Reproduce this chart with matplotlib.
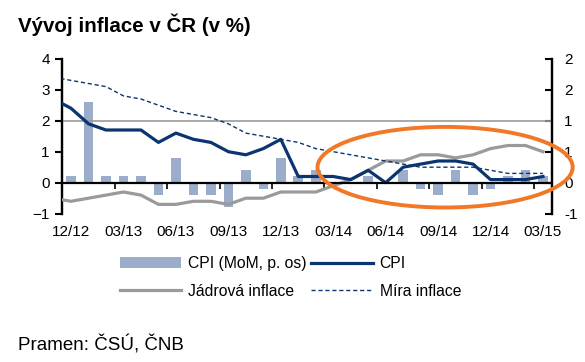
import numpy as np
import matplotlib
matplotlib.use('Agg')
import matplotlib.pyplot as plt
from matplotlib.patches import Ellipse

plt.rcParams['font.family'] = ['Liberation Sans', 'DejaVu Sans']

# --- data (11/12 only extends the lines to the axis) ---
mesice = ['11/12', '12/12', '01/13', '02/13', '03/13', '04/13', '05/13', '06/13', '07/13',
          '08/13', '09/13', '10/13', '11/13', '12/13', '01/14', '02/14', '03/14', '04/14',
          '05/14', '06/14', '07/14', '08/14', '09/14', '10/14', '11/14', '12/14', '01/15',
          '02/15', '03/15']
cpi_mom = [np.nan, 0.1, 1.3, 0.1, 0.1, 0.1, -0.2, 0.4, -0.2, -0.2, -0.4, 0.2, -0.1, 0.4,
           0.1, 0.2, 0.0, 0.0, 0.1, 0.0, 0.2, -0.1, -0.2, 0.2, -0.2, -0.1, 0.1, 0.2, 0.1]
cpi = [2.7, 2.4, 1.9, 1.7, 1.7, 1.7, 1.3, 1.6, 1.4, 1.3, 1.0, 0.9, 1.1, 1.4,
       0.2, 0.2, 0.2, 0.1, 0.4, 0.0, 0.5, 0.6, 0.7, 0.7, 0.6, 0.1, 0.1, 0.1, 0.2]
jadrova = [-0.5, -0.6, -0.5, -0.4, -0.3, -0.4, -0.7, -0.7, -0.6, -0.6, -0.7, -0.5, -0.5, -0.3,
           -0.3, -0.3, -0.1, 0.1, 0.4, 0.7, 0.7, 0.9, 0.9, 0.8, 0.9, 1.1, 1.2, 1.2, 1.0]
mira = [3.4, 3.3, 3.2, 3.1, 2.8, 2.7, 2.5, 2.3, 2.2, 2.1, 1.9, 1.6, 1.5, 1.4,
        1.3, 1.1, 1.0, 0.9, 0.8, 0.7, 0.6, 0.5, 0.5, 0.5, 0.5, 0.4, 0.3, 0.3, 0.3]
cil = 2.0
leve_ticky = [-1, 0, 1, 2, 3, 4]
prave_ticky = [-0.5, 0, 0.5, 1, 1.5, 2]
prave_popisky = ['-1', '0', '1', '1', '2', '2']  # Excel-style rounding

MODRA = '#0b3570'
SEDA = '#9a9a9a'
SLOUPCE = '#9badcb'
ORANZ = '#f07826'

x = np.arange(len(mesice)) - 1  # 12/12 -> 0

fig = plt.figure(figsize=(5.85, 3.62), dpi=100)
ax = fig.add_axes([0.1065, 0.4097, 0.8366, 0.4281])
ax2 = ax.twinx()
ax.set_zorder(ax2.get_zorder() + 1)
ax.patch.set_visible(False)

# MoM bars on the right axis
ax2.bar(x, cpi_mom, width=0.55, color=SLOUPCE, label='CPI (MoM, p. os)')
ax2.set_ylim(-0.5, 2)
ax2.set_yticks(prave_ticky)
ax2.set_yticklabels(prave_popisky)

ax.axhline(cil, color=SEDA, lw=1.2, zorder=1)
l_cpi, = ax.plot(x, cpi, color=MODRA, lw=2.3, label='CPI', zorder=4)
l_jad, = ax.plot(x, jadrova, color=SEDA, lw=2.3, label='Jádrová inflace', zorder=3)
l_mir, = ax.plot(x, mira, color=MODRA, lw=1.0, ls=(0, (3, 2)), label='Míra inflace', zorder=3)
ax.axhline(0, color='black', lw=1.6, zorder=5)

ax.set_xlim(-0.5, len(mesice) - 1.5)
ax.set_ylim(-1, 4)
ax.set_yticks(leve_ticky)

# x labels every 3 months
ax.set_xticks(x[1::3])
ax.set_xticklabels(mesice[1::3])
ax.tick_params(axis='x', length=0, pad=8, labelsize=11)
ax.tick_params(axis='y', direction='out', length=5, width=1.5, labelsize=11, pad=4)
ax2.tick_params(axis='y', direction='in', length=5, width=1.5, labelsize=11, pad=9)

# small tick marks on the zero line
sec = ax.secondary_xaxis(0.2)
sec.set_xticks(x[1::3][1:] - 0.5)
sec.set_xticklabels([])
sec.tick_params(length=4, width=1.2, direction='out')
sec.spines['bottom'].set_visible(False)

for a in (ax, ax2):
    a.spines['top'].set_visible(False)
    a.spines['bottom'].set_visible(False)
    a.spines['left'].set_linewidth(1.6)
    a.spines['right'].set_linewidth(1.6)

ax.add_patch(Ellipse((21.4, 0.5), 14.6, 2.6, fill=False, edgecolor=ORANZ, lw=2.8,
                     clip_on=False, zorder=10))

h_bar = ax2.get_legend_handles_labels()[0][0]
fig.legend([h_bar, l_jad, l_cpi, l_mir],
           ['CPI (MoM, p. os)', 'Jádrová inflace', 'CPI', 'Míra inflace'],
           ncol=2, loc='upper left', bbox_to_anchor=(120 / 585, 1 - 256 / 362),
           frameon=False, fontsize=11.3, handlelength=3.9, handletextpad=0.45,
           columnspacing=0.3, labelspacing=0.8, borderpad=0, borderaxespad=0)

fig.text(18 / 585, 1 - 25 / 362, 'Vývoj inflace v ČR (v %)', fontsize=14.8,
         fontweight='bold', va='center', ha='left')
fig.text(18 / 585, 1 - 345 / 362, 'Pramen: ČSÚ, ČNB', fontsize=13.5, va='center', ha='left')

fig.savefig('out.png', dpi=100)
